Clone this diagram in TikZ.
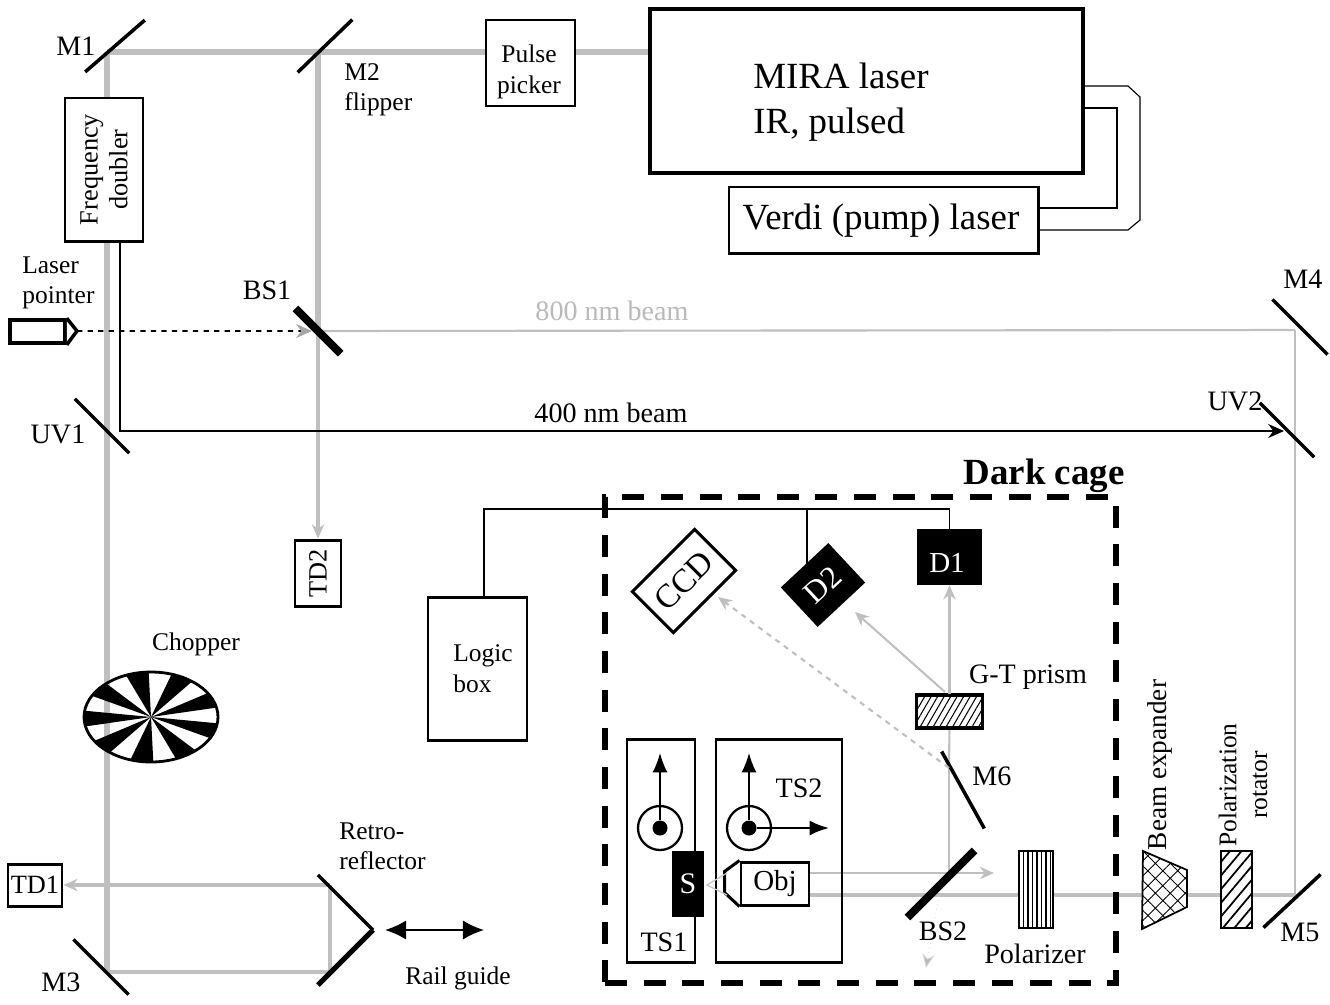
\documentclass[tikz,border=0pt]{standalone}
\usepackage{fontspec}
\setmainfont{Liberation Serif}
\usetikzlibrary{shapes,arrows.meta,positioning,patterns.meta,backgrounds}

\begin{document}
\begin{tikzpicture}[
  x=0.02cm, y=-0.02cm,
  sized/.style 2 args={minimum width=#1*0.02cm, minimum height=#2*0.02cm},
  box/.style={rectangle, draw, line width=1.7pt, fill=white, inner sep=0pt, align=center, font=\fontsize{15}{17}\selectfont},
  lab/.style={inner sep=0pt, align=left, font=\fontsize{16}{17}\selectfont},
  smalllab/.style={inner sep=0pt, align=left, font=\fontsize{14.5}{17.5}\selectfont},
  biglab/.style={inner sep=0pt, align=left, font=\fontsize{21}{26}\selectfont},
  mirror/.style={rectangle, fill=black, inner sep=0pt, minimum height=2pt, minimum width=#1*0.02cm},
  splitter/.style={rectangle, fill=black, inner sep=0pt, minimum height=4.5pt, minimum width=#1*0.02cm},
  darkbox/.style={rectangle, fill=black, text=white, inner sep=0pt, font=\fontsize{15.5}{17}\selectfont},
  beam/.style={draw=gray!50, line width=3.8pt},
  midbeam/.style={draw=gray!50, line width=1.8pt},
  thinbeam/.style={draw=gray!50, line width=1.2pt},
  tipped/.style={-{Stealth[length=8pt, width=7pt, fill=gray!55]}},
  wire/.style={draw=black, line width=0.65pt},
  stage/.style={-{Latex[length=11pt, width=8.5pt]}, line width=0.9pt}
]
  \useasboundingbox (0,0) rectangle (1330,1005);

  \node[box, sized={433}{164}, line width=2.4pt] (mira) at (866.5,91) {};
  \node[biglab] (miratxt) at (841,102) {MIRA laser\\IR, pulsed};
  \node[box, sized={309}{66}] (verdi) at (883.5,220) {};
  \node[inner sep=0pt, font=\fontsize{21}{24}\selectfont] (verditxt) at (881,221) {Verdi (pump) laser};
  \node[box, sized={89}{86}] (pulse) at (530.5,63) {};
  \node[smalllab, align=center] (pulsetxt) at (529,72) {Pulse\\picker};
  \node[box, sized={143}{78}, rotate=90] (doubler) at (104,169.5) {Frequency\\doubler};
  \node[box, sized={66}{46}, rotate=90] (td2) at (318,573) {TD2};
  \node[box, sized={54}{42}] (td1) at (35,885) {TD1};
  \node[box, sized={99}{143}] (logic) at (477.5,668.5) {};
  \node[smalllab] (logictxt) at (483,669) {Logic\\box};
  \node[box, sized={55}{23}, line width=2pt] (pointer) at (37.5,331.5) {};

  \node[mirror=79, rotate=41] (m1) at (115,46) {};
  \node[mirror=76, rotate=44] (m2) at (325,46) {};
  \node[splitter=64, rotate=-45] (bs1) at (318,331) {};
  \node[mirror=77, rotate=-45] (uv1) at (102,426) {};
  \node[mirror=78, rotate=-45] (m3) at (101,967) {};
  \node[mirror=78, rotate=-45] (m4) at (1300,327) {};
  \node[mirror=77, rotate=-45] (uv2) at (1287,430) {};
  \node[mirror=78, rotate=43] (m5) at (1292,901) {};
  \node[mirror=88, rotate=-61] (m6) at (963,790) {};
  \node[splitter=95, rotate=45] (bs2) at (941,884) {};
  \node[mirror=78, rotate=-45] (retroup) at (345.5,902.5) {};
  \node[mirror=78, rotate=45, minimum height=3pt] (retrolow) at (345.5,957.5) {};

  \coordinate (hm1) at (107,52);
  \coordinate (hm2) at (318,52);
  \coordinate (hm3) at (107,972);
  \coordinate (hm4) at (1295,330);
  \coordinate (hm5) at (1295,895);
  \coordinate (hm6) at (949,768);
  \coordinate (hup) at (330,885);
  \coordinate (hlow) at (330,972);
  \coordinate (huvstart) at (120,241);
  \coordinate (huv1) at (120,431);
  \coordinate (huv2) at (1284,431);
  \coordinate (hbs2) at (949,873);
  \coordinate (tipbs2) at (926,968);
  \coordinate (endup) at (994,873);
  \coordinate (wireleft) at (484,509);
  \coordinate (wirejoin) at (807,509);
  \coordinate (wired2) at (807,575);
  \coordinate (outer1) at (1128,86);
  \coordinate (outer2) at (1140,97);
  \coordinate (outer3) at (1140,220);
  \coordinate (outer4) at (1128,230);
  \coordinate (inner1) at (1117,108);
  \coordinate (inner2) at (1117,208);
  \coordinate (tipd2) at (855,612);
  \coordinate (tipccd) at (718,597);
  \coordinate (gtd2) at (945,692);
  \coordinate (pointertip) at (77,331);
  \coordinate (coneup) at (727,873);
  \coordinate (conelow) at (727,895);
  \coordinate (conetip) at (707,885);

  \node[box, sized={66}{33}, line width=2.2pt, preaction={fill=white}, pattern={Lines[angle=60, distance=3.2pt, line width=0.6pt]}] (gt) at (949.5,711.5) {};
  \node[box, sized={34}{77}, line width=1pt, preaction={fill=white}, pattern={Lines[angle=90, distance=2.6pt, line width=0.8pt]}] (polarizer) at (1036,889.5) {};
  \node[box, sized={31}{77}, line width=1pt, preaction={fill=white}, pattern={Lines[angle=50, distance=5pt, line width=1pt]}] (rotator) at (1236.5,889.5) {};

  \node[rectangle, draw, line width=3pt, dash pattern=on 12.5pt off 9.5pt, sized={511}{486}] (cage) at (860.5,740) {};
  \node[box, sized={68}{223}, fill=none] (ts1) at (661,851) {};
  \node[box, sized={126}{223}, fill=none] (ts2) at (779,851) {};
  \node[darkbox, sized={32}{66}, font=\fontsize{17}{19}\selectfont] (sample) at (688,884) {S};
  \node[box, sized={68}{43}] (obj) at (775,883.5) {\fontsize{16.5}{18}\selectfont Obj};
  \node[darkbox, sized={65}{56}] (d1) at (949.5,557) {};
  \node[darkbox, fill=none, font=\fontsize{16.5}{18}\selectfont] (d1txt) at (947,563) {D1};
  \node[darkbox, sized={65}{54}, rotate=43, font=\fontsize{18}{20}\selectfont] (d2) at (823,585) {D2};
  \node[box, sized={88}{58}, rotate=45, font=\fontsize{19}{20}\selectfont] (ccd) at (684,581) {CCD};
  \node[circle, draw, line width=1.3pt, minimum size=44*0.02cm] (ring1) at (660,828) {};
  \node[circle, draw, line width=1.3pt, minimum size=44*0.02cm] (ring2) at (749,828) {};
  \node[circle, fill=black, inner sep=0pt, minimum size=15*0.02cm] (dot1) at (660,828) {};
  \node[circle, fill=black, inner sep=0pt, minimum size=15*0.02cm] (dot2) at (749,828) {};
  \coordinate (up1) at (660,753);
  \coordinate (up2) at (749,753);
  \coordinate (right2) at (829,828);
  \coordinate (railleft) at (385,930);
  \coordinate (railright) at (484,930);

  \node[ellipse, draw, line width=1.6pt, sized={134}{90}, inner sep=0pt] (chopper) at (151,717) {};
  \begin{scope}
    \clip (151,717) ellipse [x radius=67, y radius=45];
    \foreach \a in {0,40,...,320}
      \fill[shift={(151,717)}] (0,0) -- (\a+8:80 and 54) -- (\a+28:80 and 54) -- cycle;
  \end{scope}

  \begin{scope}[on background layer]
    \draw[beam] (hm1) -- (hm2);
    \draw[beam] (hm2) -- (pulse.west |- hm2);
    \draw[beam] (pulse.east |- hm2) -- (mira.west |- hm2);
    \draw[beam] (hm1) -- (hm3);
    \draw[beam] (hm2) -- (bs1.center);
    \draw[midbeam, tipped] (bs1.center) -- (td2.east);
    \draw[thinbeam] (bs1.center) -- (hm4);
    \draw[thinbeam] (hm4) -- (hm5);
    \draw[midbeam] (hm5) -- (obj.east |- hm5);
    \draw[thinbeam, tipped] (obj.east |- endup) -- (endup);
    \draw[thinbeam] (hbs2) -- (hm6);
    \draw[thinbeam] (hm6) -- (gt.south);
    \draw[beam, line width=2.6pt] (hm3) -- (hlow);
    \draw[beam, line width=2.6pt, tipped] (hup) -- (td1.east);
    \draw[beam, line width=2.8pt] (hup) -- (hlow);
  \end{scope}

  \draw[thinbeam, tipped] (gt.north) -- (d1.south);
  \draw[thinbeam, tipped] (gtd2) -- (tipd2);
  \draw[thinbeam, tipped, dashed] (hm6) -- (tipccd);
  \draw[draw=gray!30, line width=0.5pt, dotted, tipped] (bs2) -- (tipbs2);

  \draw[box, fill=white] (obj.north west) -- ++(-15,11) -- ++(0,21) -- (obj.south west);
  \draw[thinbeam, draw=gray!45, line width=0.7pt] (coneup) -- (conetip) -- (conelow);

  \draw[line width=2pt, fill=white] (pointer.north east) -- (pointertip) -- (pointer.south east);
  \draw[black, line width=0.9pt, dashed, -{Stealth[length=9pt, width=8pt, color=gray!70, fill=gray!70]}] (pointertip) -- (bs1);

  \draw[line width=0.9pt, -{Stealth[length=9pt, width=8pt]}] (huvstart) -- (huv1) -- (huv2);

  \draw[wire] (outer1 -| mira.east) -- (outer1) -- (outer2) -- (outer3) -- (outer4) -- (outer4 -| verdi.east);
  \draw[wire] (inner1 -| mira.east) -- (inner1) -- (inner2) -- (inner2 -| verdi.east);
  \draw[wire] (wireleft |- logic.north) -- (wireleft) -- (wireleft -| d1) -- (d1.north);
  \begin{scope}[on background layer]
    \draw[wire] (wirejoin) -- (wired2);
  \end{scope}

  \draw[box, line width=1pt, preaction={fill=white}, pattern={Hatch[angle=45, distance=6pt, line width=0.5pt]}] (1143,851) -- (1187,870) -- (1187,907) -- (1142,929) -- cycle;

  \draw[stage] (dot1) -- (up1);
  \draw[stage] (dot2) -- (up2);
  \draw[stage, line width=1.3pt] (dot2) -- (right2);
  \draw[{Latex[length=12pt, width=11pt]}-{Latex[length=12pt, width=11pt]}, line width=1.3pt] (railleft) -- (railright);

  \node[lab] (m1txt) at (76,46) {M1};
  \node[smalllab, anchor=north west] (m2txt) at (344,63) {M2\\flipper};
  \node[lab] (m3txt) at (61,982) {M3};
  \node[lab] (m4txt) at (1303,279) {M4};
  \node[lab] (m5txt) at (1300,932) {M5};
  \node[lab] (m6txt) at (992,776) {M6};
  \node[lab] (uv1txt) at (58,434) {UV1};
  \node[lab] (uv2txt) at (1235,401) {UV2};
  \node[lab] (bs1txt) at (267,290) {BS1};
  \node[lab] (bs2txt) at (943,931) {BS2};
  \node[smalllab, anchor=north west] (pointertxt) at (22,256) {Laser\\pointer};
  \node[lab, text=gray!55] (irtxt) at (612,311) {800 nm beam};
  \node[lab] (uvtxt) at (611,413) {400 nm beam};
  \node[biglab, font=\fontsize{21}{26}\selectfont\bfseries] (cagetxt) at (1044,476) {Dark cage};
  \node[lab] (gttxt) at (1028,677) {G-T prism};
  \node[lab] (polarizertxt) at (1035,954) {Polarizer};
  \node[lab] (ts1txt) at (664,942) {TS1};
  \node[lab] (ts2txt) at (799,788) {TS2};
  \node[smalllab] (choppertxt) at (196,644) {Chopper};
  \node[smalllab, anchor=north west] (retrotxt) at (339,822) {Retro-\\reflector};
  \node[smalllab] (railtxt) at (458,978) {Rail guide};
  \node[lab, rotate=90, font=\fontsize{15.5}{17}\selectfont] (expandertxt) at (1160,765) {Beam expander};
  \node[smalllab, rotate=90, align=center] (rotatortxt) at (1243,785) {Polarization\\rotator};
\end{tikzpicture}
\end{document}
